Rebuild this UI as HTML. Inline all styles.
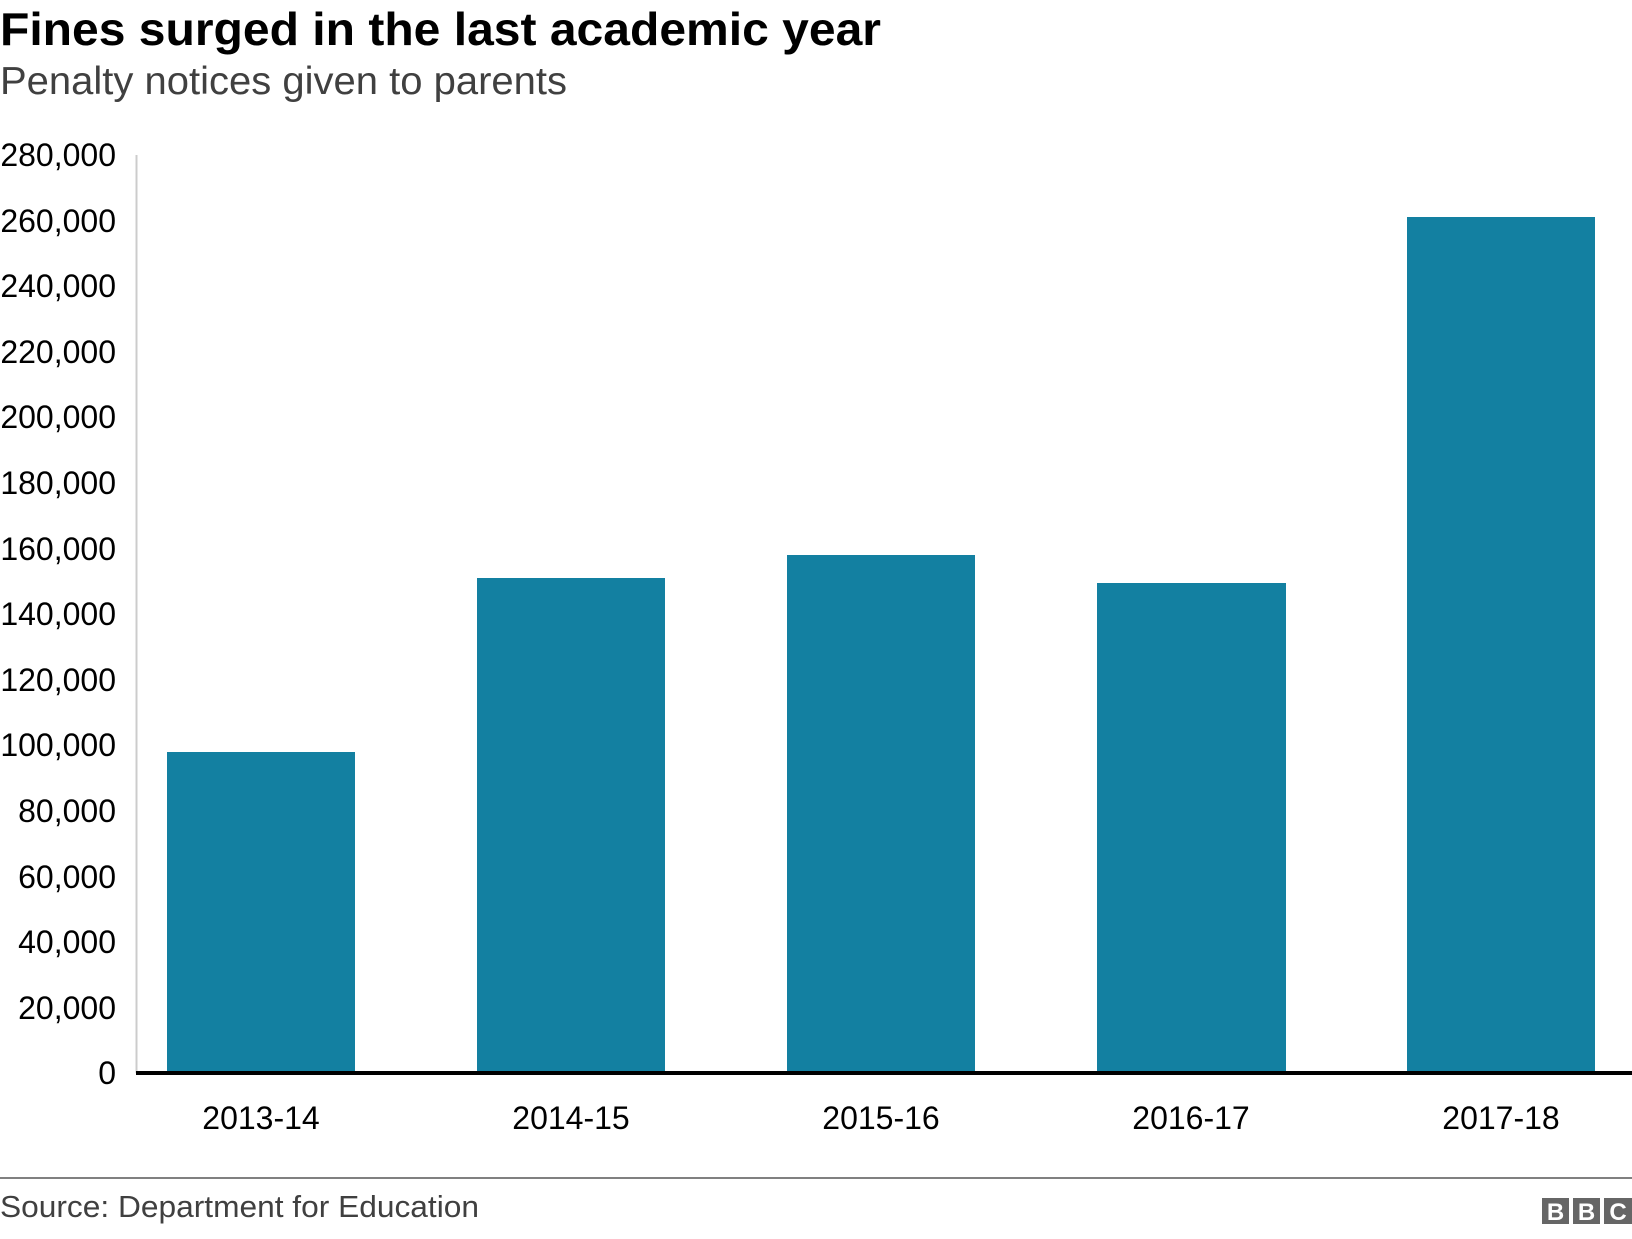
<!DOCTYPE html>
<html><head><meta charset="utf-8"><style>
body{margin:0;background:#fff;width:1632px;height:1234px;overflow:hidden;font-family:"Liberation Sans",Arial,sans-serif}
</style></head><body>
<svg width="1632" height="1234" xmlns="http://www.w3.org/2000/svg" font-family="Liberation Sans, Arial, sans-serif">
<text x="0" y="45" font-size="46" font-weight="bold" fill="#000" textLength="881" lengthAdjust="spacingAndGlyphs">Fines surged in the last academic year</text>
<text x="0" y="94" font-size="39" fill="#404040" textLength="567" lengthAdjust="spacingAndGlyphs">Penalty notices given to parents</text>
<line x1="136.5" y1="155" x2="136.5" y2="1073" stroke="#ccc" stroke-width="2"/>
<g font-size="32" fill="#000" text-anchor="end">
<text x="116" y="166">280,000</text>
<text x="116" y="232">260,000</text>
<text x="116" y="297">240,000</text>
<text x="116" y="363">220,000</text>
<text x="116" y="428">200,000</text>
<text x="116" y="494">180,000</text>
<text x="116" y="560">160,000</text>
<text x="116" y="625">140,000</text>
<text x="116" y="691">120,000</text>
<text x="116" y="756">100,000</text>
<text x="116" y="822">80,000</text>
<text x="116" y="888">60,000</text>
<text x="116" y="953">40,000</text>
<text x="116" y="1019">20,000</text>
<text x="116" y="1084">0</text>
</g>
<g fill="#1380A1">
<rect x="167" y="752" width="188" height="321"/>
<rect x="477" y="578" width="188" height="495"/>
<rect x="787" y="555" width="188" height="518"/>
<rect x="1097" y="583" width="189" height="490"/>
<rect x="1407" y="217" width="188" height="856"/>
</g>
<line x1="136" y1="1073" x2="1632" y2="1073" stroke="#000" stroke-width="4"/>
<g font-size="32" fill="#000" text-anchor="middle">
<text x="261" y="1129">2013-14</text>
<text x="571" y="1129">2014-15</text>
<text x="881" y="1129">2015-16</text>
<text x="1191" y="1129">2016-17</text>
<text x="1501" y="1129">2017-18</text>
</g>
<line x1="0" y1="1178" x2="1632" y2="1178" stroke="#808080" stroke-width="2"/>
<text x="0" y="1217" font-size="31" fill="#404040" textLength="479" lengthAdjust="spacingAndGlyphs">Source: Department for Education</text>
<g font-size="24" font-weight="bold" fill="#fff" text-anchor="middle">
<rect x="1542" y="1198" width="27" height="26" fill="#666"/>
<rect x="1573" y="1198" width="27" height="26" fill="#666"/>
<rect x="1604" y="1198" width="28" height="26" fill="#666"/>
<text x="1555.5" y="1220">B</text>
<text x="1586.5" y="1220">B</text>
<text x="1618" y="1220">C</text>
</g>
</svg>
</body></html>
